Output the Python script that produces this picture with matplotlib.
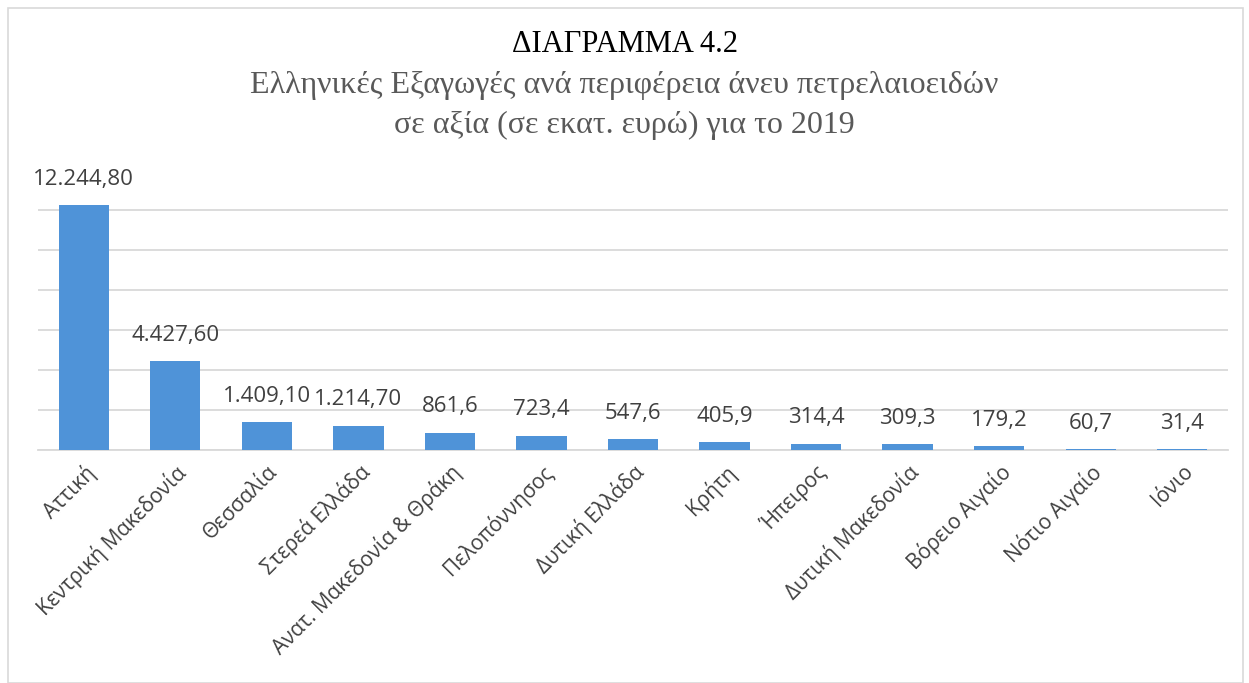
import numpy as np
import matplotlib.pyplot as plt
from matplotlib.patches import Rectangle

# data (million euro, 2019)
regions = ['Αττική', 'Κεντρική Μακεδονία', 'Θεσσαλία', 'Στερεά Ελλάδα',
           'Ανατ. Μακεδονία & Θράκη', 'Πελοπόννησος', 'Δυτική Ελλάδα', 'Κρήτη',
           'Ήπειρος', 'Δυτική Μακεδονία', 'Βόρειο Αιγαίο', 'Νότιο Αιγαίο', 'Ιόνιο']
values = [12244.8, 4427.6, 1409.1, 1214.7, 861.6, 723.4, 547.6, 405.9,
          314.4, 309.3, 179.2, 60.7, 31.4]
value_labels = ['12.244,80', '4.427,60', '1.409,10', '1.214,70', '861,6', '723,4',
                '547,6', '405,9', '314,4', '309,3', '179,2', '60,7', '31,4']

fig = plt.figure(figsize=(12.49, 6.83), dpi=100)
ax = fig.add_axes([38/1249, 1-450/683, (1228-38)/1249, 280/683])

x = np.arange(len(regions))
bars = ax.bar(x, values, width=0.55, color='#4F93D8', zorder=3)

for xi, v, lab in zip(x, values, value_labels):
    ax.annotate(lab, (xi, v), xytext=(0, 11), textcoords='offset points',
                ha='center', va='bottom', fontsize=16, color='#404040',
                family='Open Sans')

ax.set_xlim(-0.5, len(regions)-0.5)
ax.set_ylim(0, 14000)
ax.set_yticks(np.arange(0, 12001, 2000))
ax.yaxis.grid(True, color='#d9d9d9', linewidth=1.3, zorder=0)
ax.tick_params(axis='y', length=0, labelleft=False)
ax.tick_params(axis='x', length=0, pad=8)
ax.set_xticks(x)
ax.set_xticklabels(regions, rotation=45, ha='right', rotation_mode='anchor',
                   fontsize=15, color='#404040', family='Open Sans')
for s in ['top', 'right', 'left']:
    ax.spines[s].set_visible(False)
ax.spines['bottom'].set_color('#d9d9d9')
ax.spines['bottom'].set_linewidth(1.3)

fig.text(0.5, 1-45/683, 'ΔΙΑΓΡΑΜΜΑ 4.2', ha='center', va='center',
         fontsize=22, family='Liberation Serif', color='black')
fig.text(0.5, 1-85/683, 'Ελληνικές Εξαγωγές ανά περιφέρεια άνευ πετρελαιοειδών',
         ha='center', va='center', fontsize=23, family='Liberation Serif', color='#595959')
fig.text(0.5, 1-125/683, 'σε αξία (σε εκατ. ευρώ) για το 2019',
         ha='center', va='center', fontsize=23, family='Liberation Serif', color='#595959')

fig.patches.append(Rectangle((8/1249, 0), (1243-8)/1249, 1-8/683, transform=fig.transFigure,
                             fill=False, edgecolor='#d9d9d9', linewidth=1.2))

fig.savefig('out.png', dpi=100)
